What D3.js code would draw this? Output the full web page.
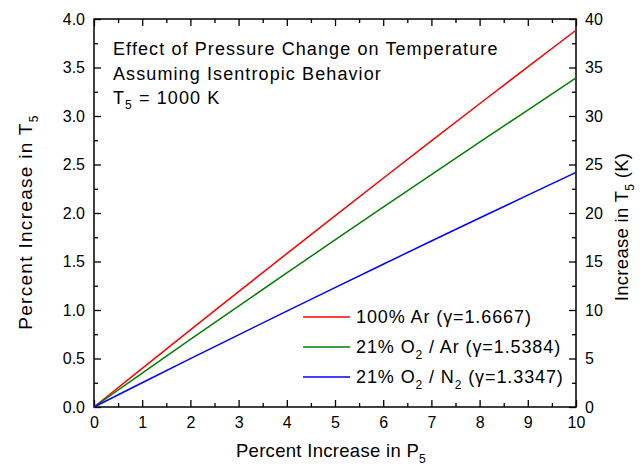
<!DOCTYPE html>
<html>
<head>
<meta charset="utf-8">
<script src="https://cdn.jsdelivr.net/npm/d3@7"></script>
<style>
  body { margin: 0; background: #fff; }
  svg text { font-family: "Liberation Sans", Arial, sans-serif; fill: #000; }
</style>
</head>
<body>
<svg id="svg"></svg>
<script>
const width = 642;
const height = 467;

// percent increase in P5
const pctP = [0, 1, 2, 3, 4, 5, 6, 7, 8, 9, 10];
// percent increase in T5
const arValues   = [0, 0.399, 0.795, 1.189, 1.581, 1.971, 2.358, 2.743, 3.126, 3.506, 3.884];
const o2arValues = [0, 0.349, 0.696, 1.040, 1.382, 1.722, 2.060, 2.396, 2.730, 3.061, 3.392];
const o2n2Values = [0, 0.250, 0.498, 0.744, 0.988, 1.231, 1.472, 1.711, 1.948, 2.184, 2.419];

const seriesNames = [
  ["100% Ar (", "γ", "=1.6667)"],
  ["21% O", "2", " / Ar (", "γ", "=1.5384)"],
  ["21% O", "2", " / N", "2", " (", "γ", "=1.3347)"]
];
const seriesColors = ["#ff0000", "#008000", "#0000ff"];

const xTicks = [0, 1, 2, 3, 4, 5, 6, 7, 8, 9, 10];
const yTicks = [0, 0.5, 1.0, 1.5, 2.0, 2.5, 3.0, 3.5, 4.0];
const y2Ticks = [0, 5, 10, 15, 20, 25, 30, 35, 40];

const margin = { top: 19, right: 66, bottom: 60, left: 94 };
const innerW = width - margin.left - margin.right;
const innerH = height - margin.top - margin.bottom;

const svg = d3.select("#svg")
  .attr("width", width)
  .attr("height", height);

const g = svg.append("g")
  .attr("transform", `translate(${margin.left},${margin.top})`);

const x = d3.scaleLinear().domain([0, 10]).range([0, innerW]);
const y = d3.scaleLinear().domain([0, 4]).range([innerH, 0]);
const y2 = d3.scaleLinear().domain([0, 40]).range([innerH, 0]);

const majorLen = 7, minorLen = 4;

function styleAxis(sel) {
  sel.select(".domain").remove();
  sel.selectAll("line").attr("stroke", "#000").attr("stroke-width", 1.3);
  sel.selectAll("text").style("font-size", "16px");
}

// minor ticks
const xMinor = d3.range(0.5, 10, 1);
const yMinor = d3.range(0.25, 4, 0.5);
const y2Minor = d3.range(2.5, 40, 5);

// bottom
g.append("g").attr("transform", `translate(0,${innerH})`)
  .call(d3.axisBottom(x).tickValues(xTicks).tickFormat(d3.format("d"))
    .tickSizeInner(-majorLen).tickSizeOuter(0).tickPadding(10))
  .call(styleAxis);
g.append("g").attr("transform", `translate(0,${innerH})`)
  .call(d3.axisBottom(x).tickValues(xMinor).tickFormat("").tickSizeInner(-minorLen).tickSizeOuter(0))
  .call(styleAxis);
// top
g.append("g")
  .call(d3.axisTop(x).tickValues(xTicks).tickFormat("").tickSizeInner(-majorLen).tickSizeOuter(0))
  .call(styleAxis);
g.append("g")
  .call(d3.axisTop(x).tickValues(xMinor).tickFormat("").tickSizeInner(-minorLen).tickSizeOuter(0))
  .call(styleAxis);
// left
g.append("g")
  .call(d3.axisLeft(y).tickValues(yTicks).tickFormat(d3.format(".1f"))
    .tickSizeInner(-majorLen).tickSizeOuter(0).tickPadding(9))
  .call(styleAxis);
g.append("g")
  .call(d3.axisLeft(y).tickValues(yMinor).tickFormat("").tickSizeInner(-minorLen).tickSizeOuter(0))
  .call(styleAxis);
// right
g.append("g").attr("transform", `translate(${innerW},0)`)
  .call(d3.axisRight(y2).tickValues(y2Ticks).tickFormat(d3.format("d"))
    .tickSizeInner(-majorLen).tickSizeOuter(0).tickPadding(9))
  .call(styleAxis);
g.append("g").attr("transform", `translate(${innerW},0)`)
  .call(d3.axisRight(y2).tickValues(y2Minor).tickFormat("").tickSizeInner(-minorLen).tickSizeOuter(0))
  .call(styleAxis);

// frame
g.append("rect")
  .attr("width", innerW).attr("height", innerH)
  .attr("fill", "none").attr("stroke", "#000").attr("stroke-width", 1.5);

// lines
const line = d3.line().x((d, i) => x(pctP[i])).y(d => y(d));
[arValues, o2arValues, o2n2Values].forEach((vals, i) => {
  g.append("path")
    .datum(vals)
    .attr("d", line)
    .attr("fill", "none")
    .attr("stroke", seriesColors[i])
    .attr("stroke-width", 1.5);
});

// annotation
const note = g.append("g").attr("transform", "translate(19,0)")
  .style("font-size", "18px").style("letter-spacing", "1.1px");
note.append("text").attr("y", 36).text("Effect of Pressure Change on Temperature");
note.append("text").attr("y", 61).text("Assuming Isentropic Behavior");
const t5 = note.append("text").attr("y", 85);
t5.append("tspan").text("T");
t5.append("tspan").attr("dy", 5).style("font-size", "12px").text("5");
t5.append("tspan").attr("dy", -5).text(" = 1000 K");

// legend
const legend = g.append("g").attr("transform", `translate(${303 - margin.left},${317 - margin.top})`);
seriesNames.forEach((parts, i) => {
  const row = legend.append("g").attr("transform", `translate(0,${i * 30})`);
  row.append("line").attr("x1", 0).attr("x2", 47)
    .attr("stroke", seriesColors[i]).attr("stroke-width", 1.5);
  const t = row.append("text").attr("x", 53).attr("y", 6)
    .style("font-size", "18px").style("letter-spacing", "0.9px");
  let sub = false;
  parts.forEach(p => {
    if (p === "2") {
      t.append("tspan").attr("dy", 6).style("font-size", "12px").text(p);
      sub = true;
    } else {
      t.append("tspan").attr("dy", sub ? -6 : 0).text(p);
      sub = false;
    }
  });
});

// axis titles
const xt = svg.append("text")
  .attr("x", 331).attr("y", 457)
  .attr("text-anchor", "middle").style("font-size", "18.5px").style("letter-spacing", "0.3px");
xt.append("tspan").text("Percent Increase in P");
xt.append("tspan").attr("dy", 6).style("font-size", "12px").text("5");

const yt = svg.append("text")
  .attr("transform", `translate(32,222) rotate(-90)`)
  .attr("text-anchor", "middle").style("font-size", "19px").style("letter-spacing", "1.3px");
yt.append("tspan").text("Percent Increase in T");
yt.append("tspan").attr("dy", 6).style("font-size", "12px").text("5");

const y2t = svg.append("text")
  .attr("transform", `translate(628,227) rotate(-90)`)
  .attr("text-anchor", "middle").style("font-size", "18.5px").style("letter-spacing", "0.3px");
y2t.append("tspan").text("Increase in T");
y2t.append("tspan").attr("dy", 6).style("font-size", "12px").text("5");
y2t.append("tspan").attr("dy", -6).text(" (K)");
</script>
</body>
</html>
